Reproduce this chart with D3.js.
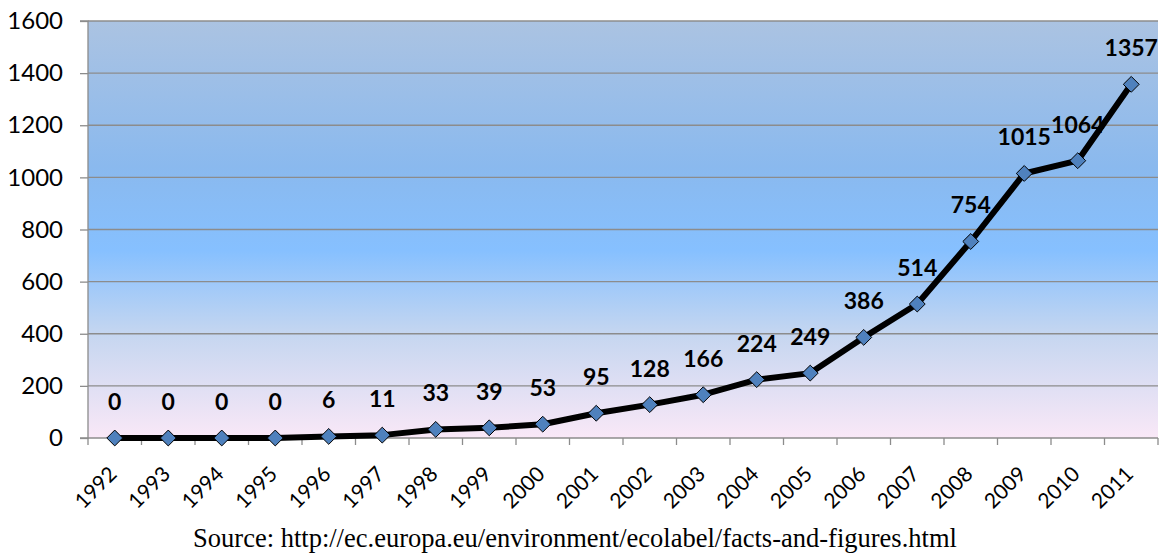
<!DOCTYPE html>
<html><head><meta charset="utf-8">
<script src="https://cdn.jsdelivr.net/npm/d3@7"></script>
<style>body{margin:0;background:#fff}svg{display:block}</style>
</head><body>
<svg id="c" width="1166" height="554"></svg>
<script>
const years = ["1992","1993","1994","1995","1996","1997","1998","1999","2000","2001","2002","2003","2004","2005","2006","2007","2008","2009","2010","2011"];
const values = [0,0,0,0,6,11,33,39,53,95,128,166,224,249,386,514,754,1015,1064,1357];
const yTicks = [0,200,400,600,800,1000,1200,1400,1600];
const sourceText = "Source: http://ec.europa.eu/environment/ecolabel/facts-and-figures.html";

const svg = d3.select("#c");
const L = 88, R = 1158, T = 21, B = 438;
const x = d3.scaleBand().domain(years).range([L, R]);
const y = d3.scaleLinear().domain([0,1600]).range([B, T]);

const defs = svg.append("defs");
const g = defs.append("linearGradient").attr("id","bg").attr("x1",0).attr("y1",0).attr("x2",0).attr("y2",1);
[[0,"#abc3e2"],[0.35,"#8ab9ee"],[0.55,"#86c0ff"],[0.75,"#c5d6f0"],[1,"#f9e8f7"]].forEach(s=>g.append("stop").attr("offset",s[0]).attr("stop-color",s[1]));

svg.append("rect").attr("x",L).attr("y",T).attr("width",R-L).attr("height",B-T).attr("fill","url(#bg)");

// gridlines
svg.append("g").selectAll("line").data(yTicks.filter(d=>d>0)).join("line")
  .attr("x1",L).attr("x2",R).attr("y1",d=>y(d)).attr("y2",d=>y(d))
  .attr("stroke","#8c8c8c").attr("stroke-width",1.3);

// y axis
const yAxis = svg.append("g").attr("transform",`translate(${L},0)`)
  .call(d3.axisLeft(y).tickValues(yTicks).tickSize(8).tickPadding(17).tickFormat(d3.format("d")));
yAxis.select(".domain").attr("stroke","#8c8c8c").attr("stroke-width",1.3).attr("d",`M-8,${T}H0V${B}H-8`);
yAxis.selectAll(".tick line").attr("stroke","#8c8c8c").attr("stroke-width",1.3);
yAxis.selectAll(".tick text").attr("font-family","Lato, 'Open Sans', sans-serif").attr("font-size",24).attr("fill","#000");

// x axis
const xAxis = svg.append("g").attr("transform",`translate(0,${B})`)
  .call(d3.axisBottom(x).tickSize(0).tickFormat(d=>d));
xAxis.select(".domain").attr("stroke","#8c8c8c").attr("stroke-width",1.3).attr("d",`M${L},0H${R}`);
xAxis.selectAll(".tick text")
  .attr("font-family","Lato, 'Open Sans', sans-serif").attr("font-size",21).attr("fill","#000")
  .attr("text-anchor","end").attr("dy","0.35em")
  .attr("transform","translate(-4,30) rotate(-45)");
// band boundary ticks
svg.append("g").selectAll("line").data(years.map(d=>x(d)).concat([R])).join("line")
  .attr("x1",d=>d).attr("x2",d=>d).attr("y1",B).attr("y2",B+7)
  .attr("stroke","#8c8c8c").attr("stroke-width",1.3);

const cx = d => x(d) + x.bandwidth()/2;
const pts = years.map((d,i)=>({yr:d,v:values[i]}));

svg.append("path").datum(pts)
  .attr("d", d3.line().x(d=>cx(d.yr)).y(d=>y(d.v)))
  .attr("fill","none").attr("stroke","#000").attr("stroke-width",6).attr("stroke-linejoin","round");

const sym = d3.symbol().type(d3.symbolDiamond2).size(160);
svg.append("g").selectAll("path").data(pts).join("path")
  .attr("d", sym)
  .attr("transform", d=>`translate(${cx(d.yr)},${y(d.v)})`)
  .attr("fill","#4f81bd").attr("stroke","#000").attr("stroke-width",1);

svg.append("g").selectAll("text").data(pts).join("text")
  .attr("x", d=>cx(d.yr)).attr("y", d=>y(d.v)-28)
  .attr("text-anchor","middle")
  .attr("font-family","Lato, 'Open Sans', sans-serif").attr("font-weight","bold").attr("font-size",23)
  .attr("fill","#000").text(d=>d.v);

svg.append("text").attr("x",575).attr("y",547).attr("text-anchor","middle")
  .attr("font-family","'Liberation Serif', 'Times New Roman', serif").attr("font-size",26.5)
  .attr("fill","#000").text(sourceText);
</script>
</body></html>
